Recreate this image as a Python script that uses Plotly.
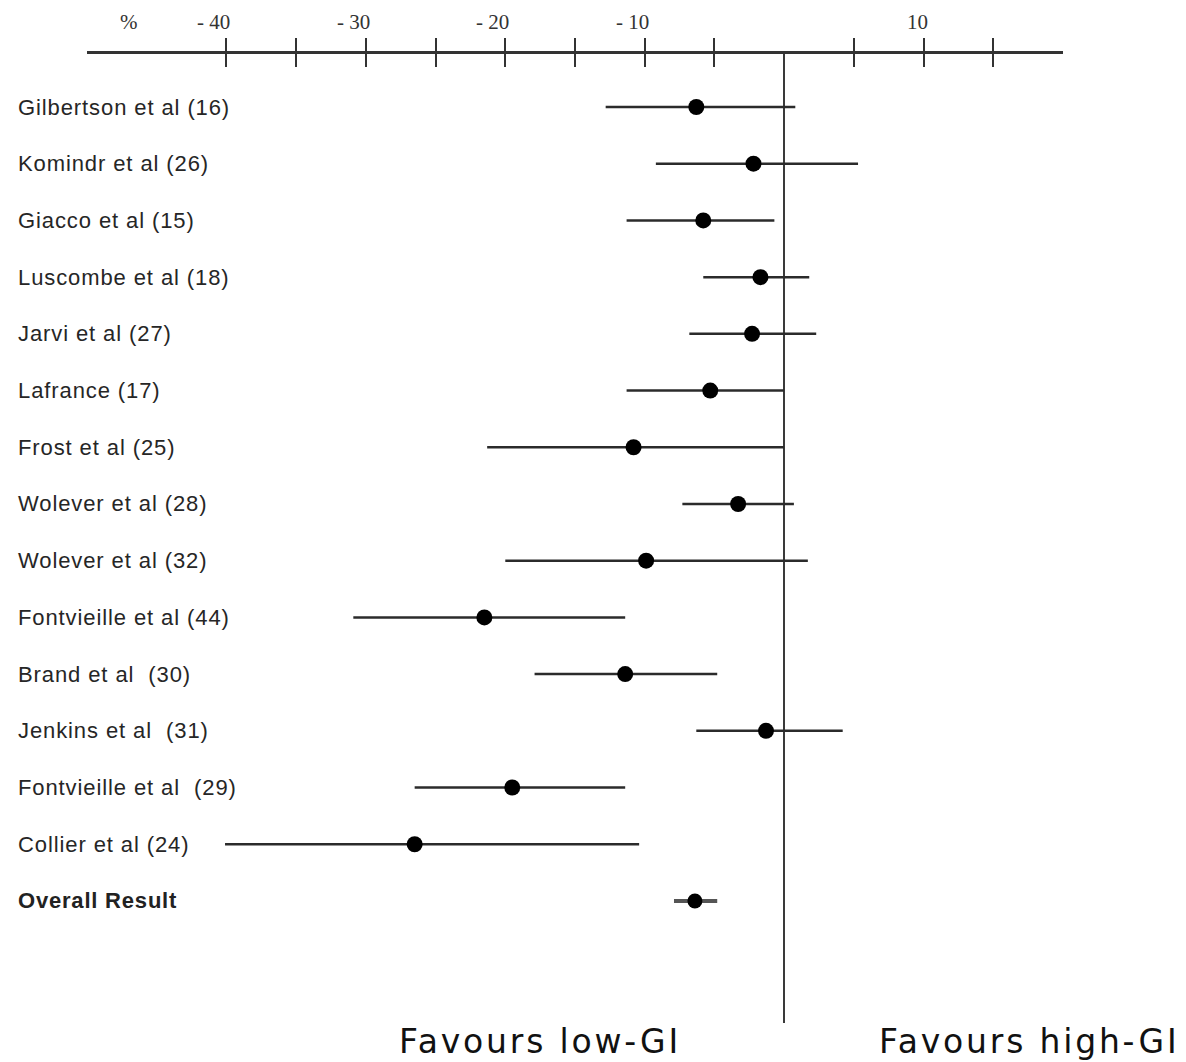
import plotly.graph_objects as go

# ---------------- data ----------------
studies = [
    "Gilbertson et al (16)",
    "Komindr et al (26)",
    "Giacco et al (15)",
    "Luscombe et al (18)",
    "Jarvi et al (27)",
    "Lafrance (17)",
    "Frost et al (25)",
    "Wolever et al (28)",
    "Wolever et al (32)",
    "Fontvieille et al (44)",
    "Brand et al\u00a0 (30)",
    "Jenkins et al\u00a0 (31)",
    "Fontvieille et al\u00a0 (29)",
    "Collier et al (24)",
]
estimate = [-6.3, -2.2, -5.8, -1.7, -2.3, -5.3, -10.8, -3.3, -9.9, -21.5, -11.4, -1.3, -19.5, -26.5]
ci_low = [-12.8, -9.2, -11.3, -5.8, -6.8, -11.3, -21.3, -7.3, -20.0, -30.9, -17.9, -6.3, -26.5, -40.1]
ci_high = [0.8, 5.3, -0.7, 1.8, 2.3, 0.0, 0.0, 0.7, 1.7, -11.4, -4.8, 4.2, -11.4, -10.4]

overall_label = "Overall Result"
overall_est = -6.4
overall_low = -7.9
overall_high = -4.8

tick_vals = [-40, -35, -30, -25, -20, -15, -10, -5, 5, 10, 15]
label_vals = [-47, -40, -30, -20, -10, 10]
label_text = ["%", "- 40", "- 30", "- 20", "- 10", "10"]

footer_left = "Favours low-GI"
footer_right = "Favours high-GI"

# ---------------- figure ----------------
W, H = 1186, 1062
ML, MR, MT, MB = 87, 123, 54, 39

rows = list(range(len(studies)))
overall_row = len(studies)

fig = go.Figure()

fig.add_trace(go.Scatter(
    x=estimate, y=rows, mode="markers",
    marker=dict(size=16, color="black"),
    error_x=dict(type="data", symmetric=False,
                 array=[h - e for h, e in zip(ci_high, estimate)],
                 arrayminus=[e - l for e, l in zip(estimate, ci_low)],
                 width=0, thickness=2.5, color="#2b2b2b"),
    showlegend=False, hoverinfo="skip", cliponaxis=False,
))
fig.add_trace(go.Scatter(
    x=[overall_est], y=[overall_row], mode="markers",
    marker=dict(size=15, color="black"),
    error_x=dict(type="data", symmetric=False,
                 array=[overall_high - overall_est],
                 arrayminus=[overall_est - overall_low],
                 width=0, thickness=4, color="#555555"),
    showlegend=False, hoverinfo="skip", cliponaxis=False,
))
# dummy trace on second x axis so that it is drawn
fig.add_trace(go.Scatter(x=[None], y=[None], xaxis="x2", showlegend=False))

row_px = 56.71
first_px = 107 - MT
plot_h = H - MT - MB
top_val = 0 - first_px / row_px
bot_val = top_val + plot_h / row_px

common_x = dict(range=[-50, 20], tickmode="array", tickvals=tick_vals,
                showticklabels=False, showgrid=False, ticklen=13,
                tickwidth=2, tickcolor="#333333", side="top",
                showline=True, linecolor="#333333", linewidth=2.5)

fig.update_layout(
    width=W, height=H,
    margin=dict(l=ML, r=MR, t=MT, b=MB),
    paper_bgcolor="white", plot_bgcolor="white",
    xaxis=dict(**common_x, ticks="outside", zeroline=True,
               zerolinecolor="#3a3a3a", zerolinewidth=2),
    xaxis2=dict(**common_x, ticks="inside", overlaying="x", anchor="y",
                zeroline=False),
    yaxis=dict(range=[bot_val, top_val], visible=False, showgrid=False,
               zeroline=False),
    font=dict(family="Liberation Sans, Arial", color="#222222"),
)

# row labels
for i, name in enumerate(studies):
    fig.add_annotation(
        x=0, xref="paper", y=i, yref="y", xanchor="left", yanchor="middle",
        xshift=16 - ML, showarrow=False,
        text=f'<span style="letter-spacing:0.9px">{name}</span>',
        font=dict(family="Liberation Sans, Arial", size=22, color="#262626"),
    )
fig.add_annotation(
    x=0, xref="paper", y=overall_row, yref="y", xanchor="left", yanchor="middle",
    xshift=16 - ML, showarrow=False,
    text=f'<b><span style="letter-spacing:0.8px">{overall_label}</span></b>',
    font=dict(family="Liberation Sans, Arial", size=22, color="#222222"),
)

# axis tick labels
for v, t in zip(label_vals, label_text):
    is_pct = t == "%"
    fig.add_annotation(
        x=v, xref="x", y=1, yref="paper",
        xanchor="center" if is_pct else "right", yanchor="middle",
        xshift=0 if is_pct else 6, yshift=MT - 22, showarrow=False,
        text=t.replace(" ", "\u00a0"),
        font=dict(family="Liberation Serif, Times New Roman", size=21, color="#333333"),
    )

# footer
for xc, t in [(540, footer_left), (1029, footer_right)]:
    fig.add_annotation(
        x=(xc - ML) / (W - ML - MR), xref="paper", y=0, yref="paper",
        xanchor="center", yanchor="middle", yshift=-(1041 - (H - MB)),
        showarrow=False,
        text=f'<span style="letter-spacing:2.8px">{t}</span>',
        font=dict(family="DejaVu Sans, Verdana", size=33, color="#111111"),
    )

fig.write_html("out.html")
